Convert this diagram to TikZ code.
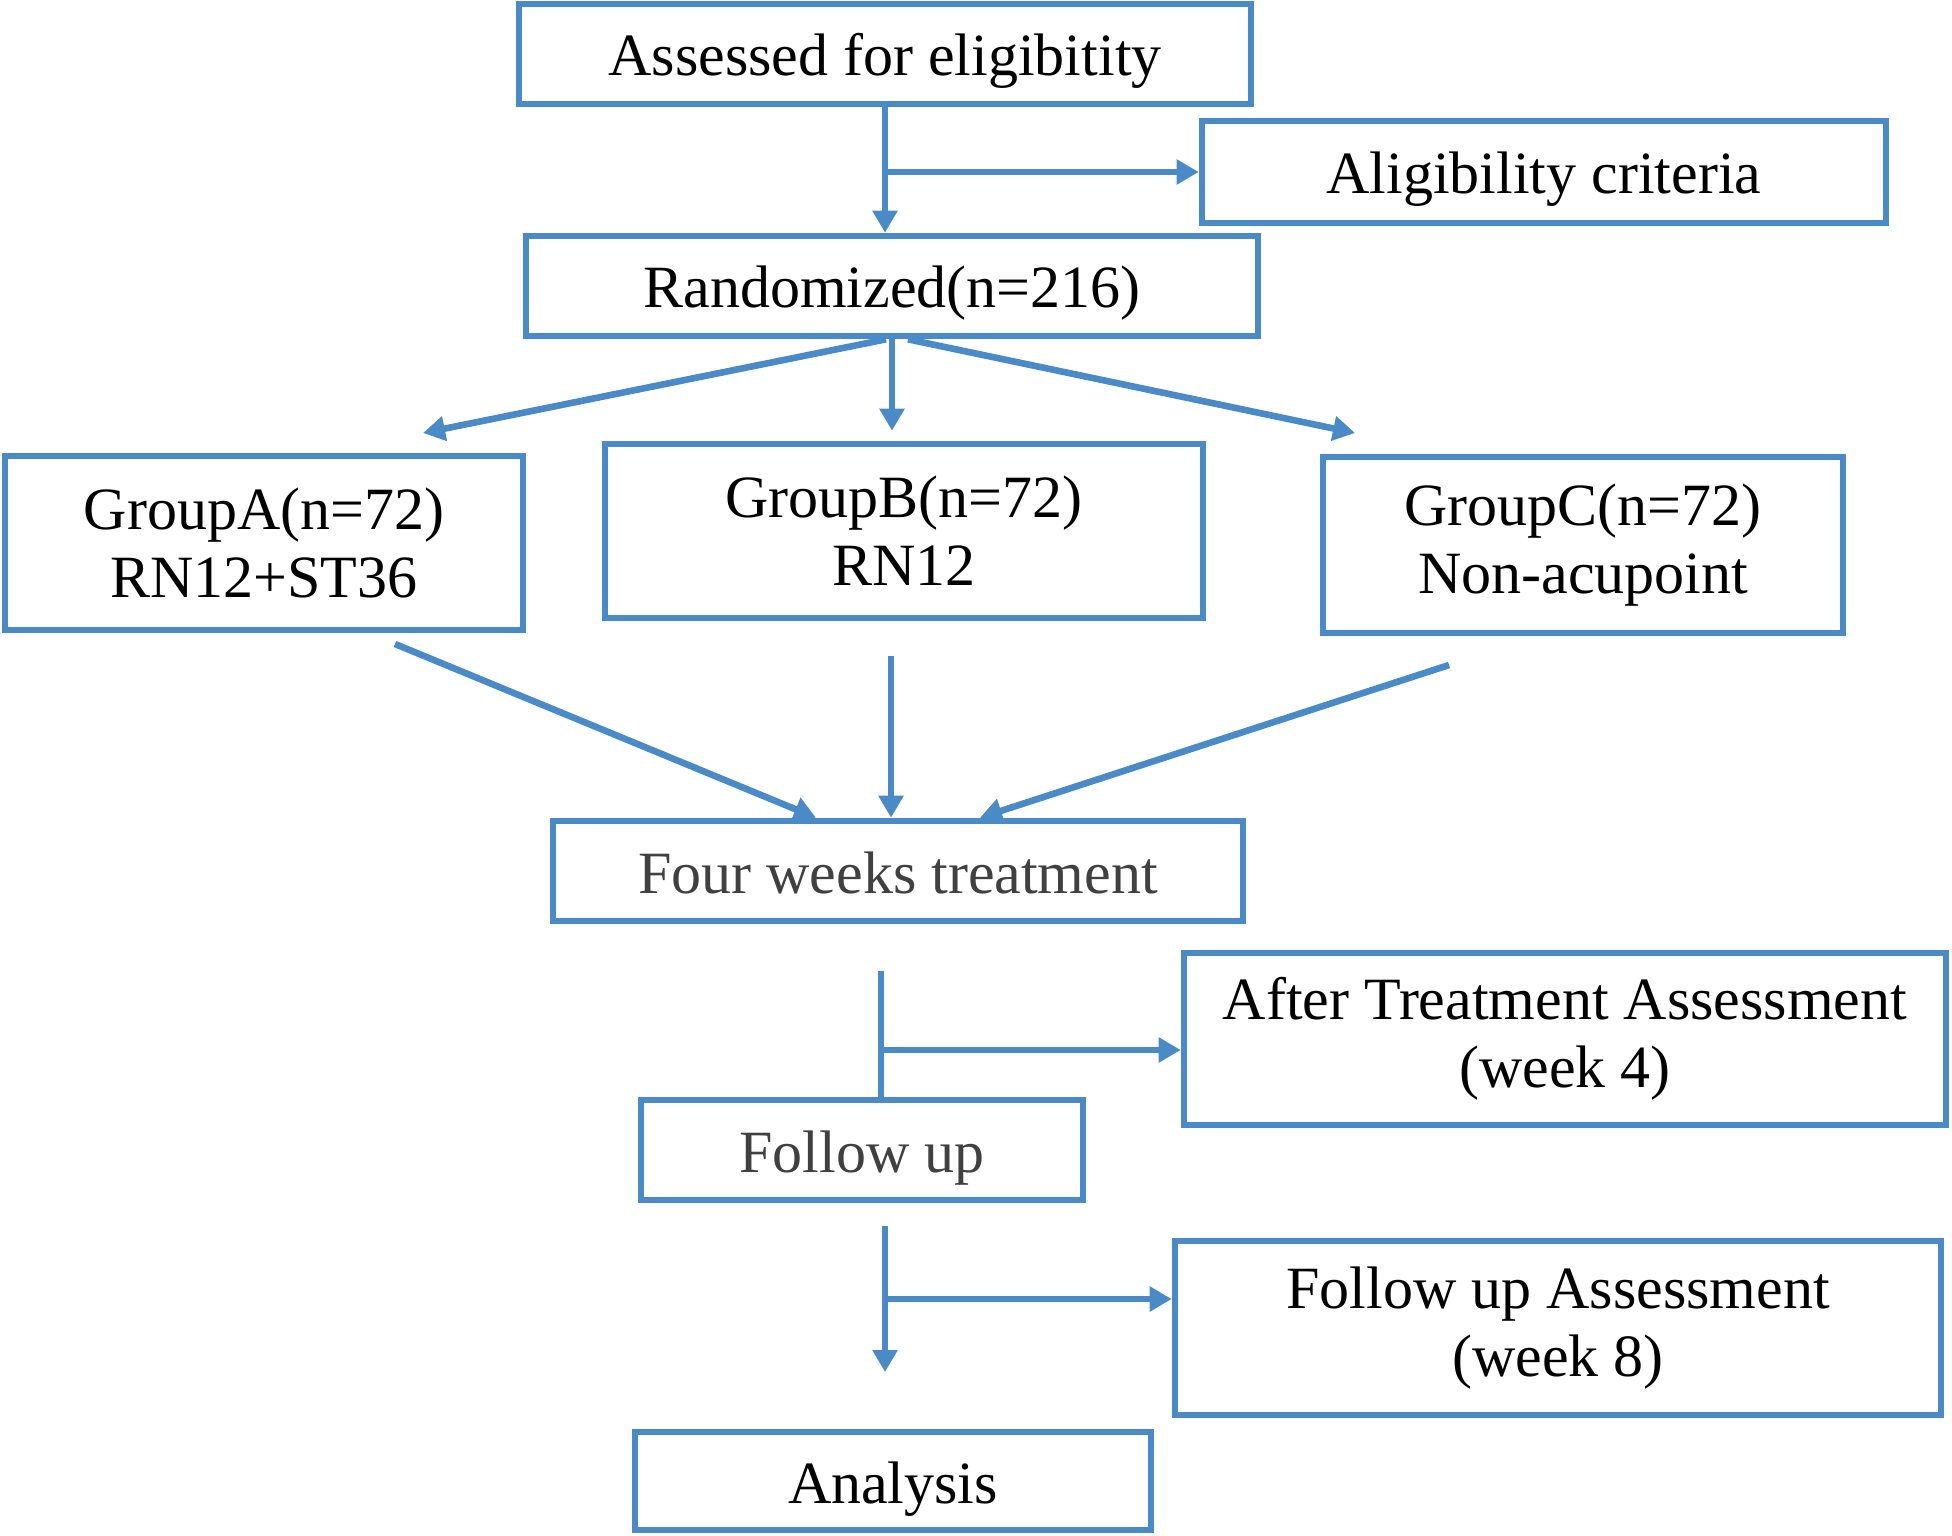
\documentclass[tikz,border=0pt]{standalone}
\usepackage{fontspec}
\setmainfont{Liberation Serif}
\usetikzlibrary{arrows.meta}
\tikzset{>={Triangle[length=11pt,width=12pt]}}
\definecolor{flowblue}{RGB}{74,138,198}
\definecolor{softblack}{RGB}{64,64,64}
\tikzset{
    box/.style={draw=flowblue, line width=3.3pt, align=center, inner sep=0pt,
        font=\fontsize{30}{34}\selectfont},
    onebox/.style={box, text height=26pt, text depth=4pt},
    link/.style={flowblue, line width=3.3pt}
}

\begin{document}
\begin{tikzpicture}[x=0.5pt, y=-0.5pt]
    \useasboundingbox (0,0) rectangle (1952,1535);

    % boxes
    \node[onebox, minimum width=366pt, minimum height=50pt] (assess) at (885,54) {Assessed for eligibitity};
    \node[onebox, minimum width=342pt, minimum height=51pt] (crit) at (1544,172) {Aligibility criteria};
    \node[onebox, minimum width=366pt, minimum height=50pt] (rand) at (892,286) {Randomized(n=216)};

    \node[box, minimum width=259pt, minimum height=87pt] (grpA) at (264,543) {GroupA(n=72)\\RN12+ST36};
    \node[box, minimum width=299pt, minimum height=87pt] (grpB) at (904,531) {GroupB(n=72)\\RN12};
    \node[box, minimum width=260pt, minimum height=88pt] (grpC) at (1583,545) {GroupC(n=72)\\Non-acupoint};

    \node[onebox, text=softblack, minimum width=345pt, minimum height=50pt] (treat) at (898,871) {Four weeks treatment};
    \node[box, minimum width=381pt, minimum height=86pt] (after) at (1565,1039) {After Treatment Assessment\\(week 4)};
    \node[onebox, text=softblack, minimum width=221pt, minimum height=50pt] (fup) at (862,1150) {Follow up};
    \node[box, minimum width=383pt, minimum height=87pt] (fupa) at (1558,1328) {Follow up Assessment\\(week 8)};
    \node[onebox, minimum width=258pt, minimum height=49pt] (anal) at (893,1481) {Analysis};

    % free ends
    \coordinate (b1) at (885,172);
    \coordinate (inA) at (423,433);
    \coordinate (inC) at (1355,433);
    \coordinate (outA) at (395,644);
    \coordinate (outB) at (891,656);
    \coordinate (outC) at (1449,665);
    \coordinate (s2) at (881,971);
    \coordinate (b2) at (881,1050);
    \coordinate (s3) at (885,1226);
    \coordinate (b3) at (885,1299);
    \coordinate (e3) at (885,1372);

    % connectors
    \draw[link, ->] (assess.south -| b1) -- (b1 |- rand.north);
    \draw[link, ->] (b1) -- (b1 -| crit.west);

    \draw[link, ->] ([xshift=-3pt]rand.south) -- (inA);
    \draw[link, ->, shorten >=5pt] (rand.south) -- (rand.south |- grpB.north);
    \draw[link, ->] ([xshift=8pt]rand.south) -- (inC);

    \draw[link, ->] (outA) -- ([xshift=-41pt]treat.north);
    \draw[link, ->] (outB) -- (outB |- treat.north);
    \draw[link, ->] (outC) -- ([xshift=41pt]treat.north);

    \draw[link] (s2) -- (s2 |- fup.north);
    \draw[link, ->] (b2) -- (b2 -| after.west);

    \draw[link, ->] (s3) -- (e3);
    \draw[link, ->] (b3) -- (b3 -| fupa.west);

\end{tikzpicture}
\end{document}
